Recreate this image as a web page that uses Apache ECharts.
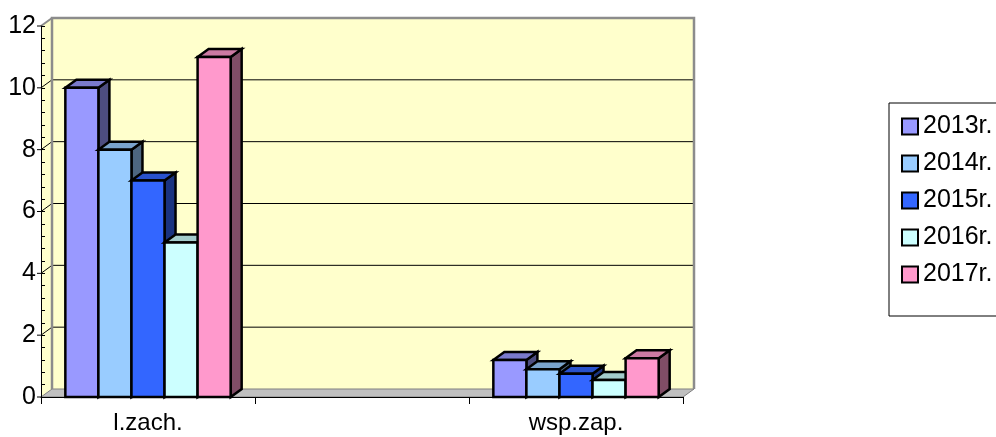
<!DOCTYPE html>
<html>
<head>
<meta charset="utf-8">
<script src="https://cdn.jsdelivr.net/npm/echarts@6/dist/echarts.min.js"></script>
<style>html,body{margin:0;padding:0;background:#fff;}#c{width:996px;height:437px;}</style>
</head>
<body>
<div id="c"></div>
<script>
// ---- data ----
const categories = ['l.zach.', '', 'wsp.zap.'];
const seriesNames = ['2013r.', '2014r.', '2015r.', '2016r.', '2017r.'];
const v2013 = [10, null, 1.2];
const v2014 = [8, null, 0.9];
const v2015 = [7, null, 0.75];
const v2016 = [5, null, 0.55];
const v2017 = [11, null, 1.25];
const yTicks = [0, 2, 4, 6, 8, 10, 12];

// ---- styling ----
const FONT = 'Liberation Sans, Arial, sans-serif';
const frontColors = ['#9999FF', '#99CCFF', '#3366FF', '#CCFFFF', '#FF99CC'];
const topColors   = ['#7A7ACC', '#7AA3CC', '#2952CC', '#A3CCCC', '#CC7AA3'];
const sideColors  = ['#4D4D80', '#4D6680', '#1A3380', '#668080', '#804D66'];
const DX = 11, DY = -8;
const BAR_FRAC = 0.1545;

const allValues = [v2013, v2014, v2015, v2016, v2017];

function barRenderer(si) {
  return function (params, api) {
    const ci = api.value(0), v = api.value(1);
    const base = api.coord([ci, 0]);
    const tp = api.coord([ci, v]);
    const band = api.size([1, 0])[0];
    const bw = band * BAR_FRAC;
    const xl = base[0] + (si - 2.5) * bw;
    const xr = xl + bw;
    const yb = base[1], yt = tp[1];
    const st = {stroke: '#000', lineWidth: 2.5, lineJoin: 'miter'};
    return {
      type: 'group',
      children: [
        {type: 'polygon', shape: {points: [[xr, yt], [xr + DX, yt + DY], [xr + DX, yb + DY], [xr, yb]]},
         style: Object.assign({fill: sideColors[si]}, st)},
        {type: 'polygon', shape: {points: [[xl, yt], [xr, yt], [xr + DX, yt + DY], [xl + DX, yt + DY]]},
         style: Object.assign({fill: topColors[si]}, st)},
        {type: 'rect', shape: {x: xl, y: yt, width: bw, height: yb - yt},
         style: Object.assign({fill: frontColors[si]}, st)}
      ]
    };
  };
}

function wallRenderer(params, api) {
  const cs = params.coordSys;
  const x0 = cs.x, x1 = cs.x + cs.width;
  const yB = api.coord([0, yTicks[0]])[1];
  const yT = api.coord([0, yTicks[yTicks.length - 1]])[1];
  const children = [];
  children.push({type: 'rect', shape: {x: x0 + DX, y: yT + DY, width: x1 - x0, height: yB - yT},
    style: {fill: '#FFFFCC', stroke: 'none'}});
  children.push({type: 'polygon', shape: {points: [[x0, yT], [x0 + DX, yT + DY], [x0 + DX, yB + DY], [x0, yB]]},
    style: {fill: '#FFFFCC', stroke: 'none'}});
  yTicks.forEach(function (t, k) {
    if (k === 0 || k === yTicks.length - 1) return;
    const y = api.coord([0, t])[1];
    children.push({type: 'polyline', shape: {points: [[x0, y], [x0 + DX, y + DY], [x1 + DX, y + DY]]},
      style: {stroke: '#000', lineWidth: 1, fill: 'none'}});
  });
  children.push({type: 'polygon', shape: {points: [[x0, yB], [x1, yB], [x1 + DX, yB + DY], [x0 + DX, yB + DY]]},
    style: {fill: '#C0C0C0', stroke: '#808080', lineWidth: 1}});
  children.push({type: 'polyline', shape: {points: [[x0 + DX, yB + DY], [x0 + DX, yT + DY], [x1 + DX, yT + DY], [x1 + DX, yB + DY]]},
    style: {stroke: '#8C8C8C', lineWidth: 2.5, fill: 'none'}});
  children.push({type: 'polyline', shape: {points: [[x0, yT], [x0 + DX, yT + DY]]},
    style: {stroke: '#8C8C8C', lineWidth: 2, fill: 'none'}});
  yTicks.forEach(function (t) {
    const y = api.coord([0, t])[1];
    children.push({type: 'line', shape: {x1: x0 - 4, y1: y, x2: x0, y2: y},
      style: {stroke: '#000', lineWidth: 1}});
  });
  return {type: 'group', children: children};
}

const series = [{
  name: '_wall', type: 'custom', silent: true, z: 1,
  renderItem: wallRenderer, data: [[0, 0]], clip: false
}];
seriesNames.forEach(function (n, si) {
  series.push({
    name: n, type: 'custom', z: 2, clip: false,
    itemStyle: {color: frontColors[si], borderColor: '#000', borderWidth: 2},
    renderItem: barRenderer(si),
    data: categories.map(function (c, i) { return [i, allValues[si][i]]; })
                    .filter(function (d) { return d[1] != null; })
  });
});

const chart = echarts.init(document.getElementById('c'), null, {renderer: 'canvas'});
chart.setOption({
  animation: false,
  backgroundColor: '#fff',
  grid: {left: 41, right: 313, top: 26, bottom: 40, containLabel: false},
  xAxis: {
    type: 'category', data: categories, boundaryGap: true, z: 10,
    axisLine: {show: true, lineStyle: {color: '#000', width: 1}},
    axisTick: {show: true, length: 7, lineStyle: {color: '#000'}},
    axisLabel: {fontSize: 24, fontFamily: FONT, color: '#000', margin: 14},
    splitLine: {show: false}
  },
  yAxis: {
    type: 'value', min: 0, max: 12, interval: 2, z: 10,
    axisLine: {show: true, lineStyle: {color: '#000', width: 1}},
    axisTick: {show: true, inside: true, length: 4, lineStyle: {color: '#000'}},
    minorTick: {show: true, splitNumber: 5, length: 4, lineStyle: {color: '#000'}},
    axisLabel: {fontSize: 25, fontFamily: FONT, color: '#000', margin: 5},
    splitLine: {show: false}
  },
  legend: {
    data: seriesNames, orient: 'vertical', left: 889, top: 103,
    padding: [11, 40, 29, 12], itemGap: 12, itemWidth: 16, itemHeight: 16, icon: 'rect',
    borderColor: '#000', borderWidth: 1,
    itemStyle: {borderColor: '#000', borderWidth: 2},
    textStyle: {fontSize: 25, fontFamily: FONT, color: '#000'}
  },
  series: series
});
</script>
</body>
</html>
